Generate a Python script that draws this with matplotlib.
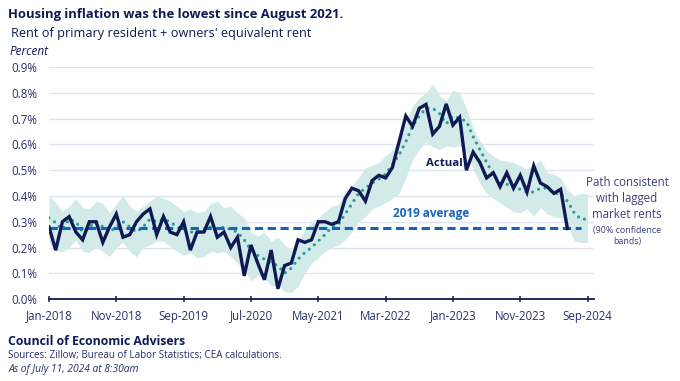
import matplotlib
matplotlib.use("Agg")
import matplotlib.pyplot as plt
import numpy as np

tick_labels = ["Jan-2018", "Nov-2018", "Sep-2019", "Jul-2020", "May-2021",
               "Mar-2022", "Jan-2023", "Nov-2023", "Sep-2024"]

# Monthly, Jan-2018 .. Jun-2024 (percent)
actual = [0.28, 0.19, 0.30, 0.32, 0.26, 0.23, 0.30, 0.30, 0.22, 0.28, 0.33, 0.24,
          0.25, 0.30, 0.33, 0.35, 0.25, 0.32, 0.26, 0.25, 0.30, 0.19, 0.26, 0.26,
          0.32, 0.24, 0.26, 0.20, 0.24, 0.09, 0.21, 0.14, 0.075, 0.19, 0.04, 0.13,
          0.14, 0.23, 0.22, 0.23, 0.30, 0.30, 0.29, 0.30, 0.39, 0.43, 0.42, 0.38,
          0.46, 0.48, 0.47, 0.51, 0.61, 0.71, 0.67, 0.74, 0.755, 0.64, 0.67, 0.757,
          0.675, 0.705, 0.50, 0.57, 0.53, 0.47, 0.49, 0.436, 0.49, 0.43, 0.48, 0.415,
          0.517, 0.45, 0.436, 0.41, 0.426, 0.274]

# Monthly, Jan-2018 .. Sep-2024 (percent)
path = [0.315, 0.296, 0.27, 0.31, 0.30, 0.26, 0.28, 0.30, 0.28, 0.26, 0.28, 0.30,
        0.28, 0.26, 0.28, 0.31, 0.30, 0.31, 0.30, 0.28, 0.27, 0.26, 0.26, 0.26,
        0.28, 0.27, 0.28, 0.27, 0.26, 0.23, 0.19, 0.17, 0.155, 0.14, 0.13, 0.10,
        0.12, 0.155, 0.18, 0.20, 0.225, 0.25, 0.28, 0.29, 0.33, 0.37, 0.41, 0.43,
        0.45, 0.465, 0.485, 0.52, 0.56, 0.61, 0.67, 0.71, 0.74, 0.74, 0.72, 0.68,
        0.71, 0.70, 0.69, 0.63, 0.58, 0.53, 0.485, 0.45, 0.445, 0.44, 0.425, 0.415,
        0.415, 0.43, 0.43, 0.41, 0.41, 0.38, 0.335, 0.31, 0.31]

band_upper = [0.40, 0.375, 0.34, 0.36, 0.39, 0.355, 0.35, 0.38, 0.37, 0.335, 0.37, 0.40,
              0.36, 0.34, 0.36, 0.38, 0.40, 0.39, 0.38, 0.36, 0.34, 0.35, 0.335, 0.34,
              0.37, 0.38, 0.355, 0.36, 0.335, 0.315, 0.26, 0.245, 0.26, 0.225, 0.24, 0.21,
              0.19, 0.22, 0.27, 0.30, 0.315, 0.34, 0.36, 0.365, 0.42, 0.44, 0.47, 0.51,
              0.52, 0.53, 0.555, 0.58, 0.61, 0.68, 0.75, 0.78, 0.80, 0.835, 0.79, 0.77,
              0.81, 0.80, 0.74, 0.665, 0.615, 0.575, 0.555, 0.54, 0.535, 0.53, 0.517, 0.505,
              0.517, 0.54, 0.49, 0.485, 0.47, 0.425, 0.40, 0.41, 0.41]

band_lower = [0.22, 0.185, 0.185, 0.20, 0.23, 0.185, 0.18, 0.205, 0.185, 0.165, 0.20, 0.22,
              0.185, 0.165, 0.20, 0.21, 0.225, 0.225, 0.205, 0.185, 0.17, 0.18, 0.16, 0.165,
              0.185, 0.18, 0.185, 0.165, 0.14, 0.115, 0.07, 0.095, 0.08, 0.05, 0.055, 0.03,
              0.025, 0.05, 0.10, 0.14, 0.16, 0.185, 0.20, 0.21, 0.23, 0.26, 0.30, 0.32,
              0.35, 0.36, 0.375, 0.39, 0.41, 0.47, 0.54, 0.58, 0.61, 0.59, 0.58, 0.595,
              0.59, 0.595, 0.57, 0.505, 0.45, 0.41, 0.39, 0.375, 0.355, 0.34, 0.335, 0.35,
              0.32, 0.355, 0.33, 0.32, 0.315, 0.29, 0.225, 0.22, 0.22]

avg_2019 = 0.277

NAVY = "#0f1a55"
TEXT = "#26306b"
TEAL = "#2e9c9a"
BAND = "#d2eae8"
BLUE = "#1464bf"
GRID = "#dfe2ef"

plt.rcParams["font.family"] = ["Open Sans", "DejaVu Sans"]

fig = plt.figure(figsize=(6.8, 3.81), dpi=100)
ax = fig.add_axes([0.072, 0.215, 0.802, 0.609])

x_band = np.arange(len(band_upper))
x_path = np.arange(len(path))
x_act = np.arange(len(actual))

ax.fill_between(x_band, band_lower, band_upper, color=BAND, lw=0, zorder=1)
ax.plot(x_path, path, color=TEAL, lw=2.3, dashes=(0.01, 2.1),
        dash_capstyle="round", zorder=3)
ax.hlines(avg_2019, 0, 79, color=BLUE, lw=2.2, linestyles=(0, (2.7, 1.5)), zorder=4)
ax.plot(x_act, actual, color=NAVY, lw=2.4, solid_joinstyle="miter", zorder=5)

ax.set_xlim(0, 81)
ax.set_ylim(0, 0.9)
yt = np.arange(0, 0.91, 0.1)
ax.set_yticks(yt)
ax.set_yticklabels([f"{v:.1f}%" for v in yt])
ax.set_xticks(np.arange(0, 81, 10))
ax.set_xticklabels(tick_labels)
for s in ["top", "right", "left"]:
    ax.spines[s].set_visible(False)
ax.spines["bottom"].set_color(NAVY)
ax.spines["bottom"].set_linewidth(1.3)
ax.grid(axis="y", color=GRID, lw=1.0, zorder=0)
ax.set_axisbelow(True)
ax.tick_params(axis="y", length=0, labelsize=8.3, labelcolor=TEXT, pad=8.5)
ax.tick_params(axis="x", direction="inout", length=5, width=1.1, color=NAVY,
               labelsize=8.3, labelcolor=TEXT, pad=5)

ax.text(61.5, 0.525, "Actual", color=NAVY, fontsize=8.2, fontweight="bold",
        ha="right", va="center")
ax.text(56.7, 0.333, "2019 average", color=BLUE, fontsize=8.5, fontweight="bold",
        ha="center", va="center")

fig.text(0.922, 0.478, "Path consistent\nwith lagged\nmarket rents", color="#3b3f7c",
         fontsize=8.3, ha="center", va="center", linespacing=1.3)
fig.text(0.922, 0.38, "(90% confidence\nbands)", color="#3b3f7c",
         fontsize=6.4, ha="center", va="center", linespacing=1.3)

fig.text(0.012, 0.963, "Housing inflation was the lowest since August 2021.",
         color=NAVY, fontsize=9.4, fontweight="bold", va="center")
fig.text(0.016, 0.913, "Rent of primary resident + owners' equivalent rent",
         color=NAVY, fontsize=9.2, va="center")
fig.text(0.014, 0.866, "Percent", color=NAVY, fontsize=8.5, style="italic", va="center")

fig.text(0.012, 0.103, "Council of Economic Advisers", color=NAVY, fontsize=8.8,
         fontweight="bold", va="center")
fig.text(0.012, 0.066, "Sources: Zillow; Bureau of Labor Statistics; CEA calculations.",
         color=TEXT, fontsize=7.1, va="center")
fig.text(0.012, 0.029, "As of July 11, 2024 at 8:30am", color=TEXT, fontsize=7.4,
         style="italic", va="center")

fig.savefig("out.png", dpi=100)
